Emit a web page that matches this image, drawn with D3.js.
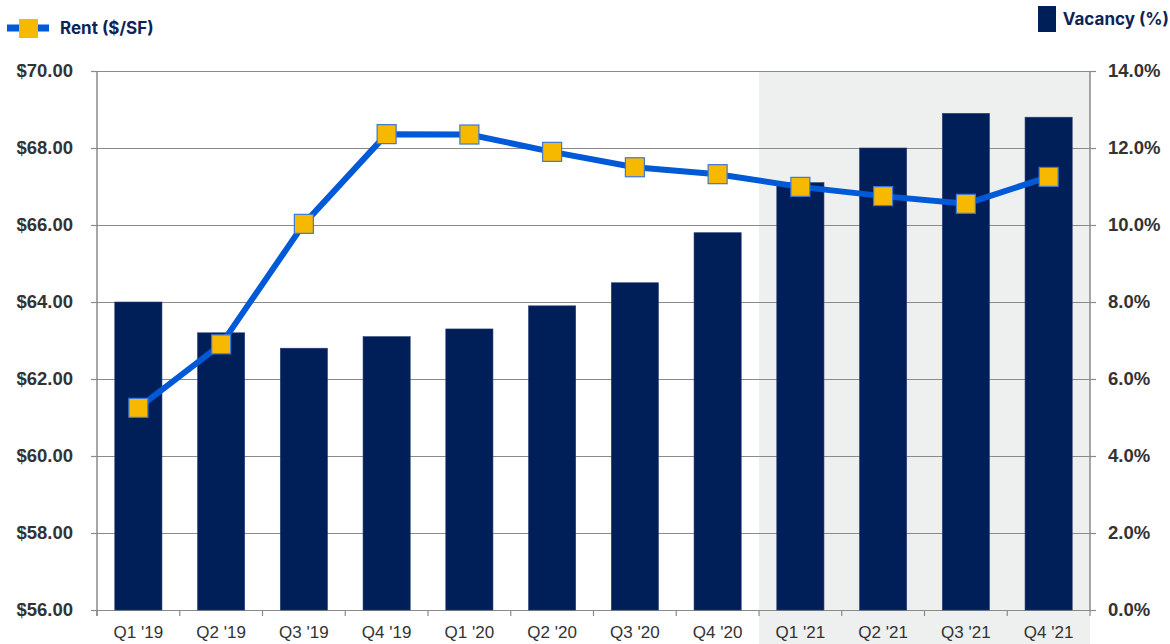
<!DOCTYPE html>
<html>
<head>
<meta charset="utf-8">
<script src="https://cdn.jsdelivr.net/npm/d3@7"></script>
<style>
  body { margin: 0; background: #fff; }
  .tick text { font-family: "Liberation Sans", Arial, sans-serif; fill: #333; }
  .legend { font-family: Inter, "Noto Sans", sans-serif; font-weight: 700; fill: #0e2356; font-size: 17px; }
</style>
</head>
<body>
<div id="chart"></div>
<script>
const quarters = ["Q1 '19", "Q2 '19", "Q3 '19", "Q4 '19", "Q1 '20", "Q2 '20",
                  "Q3 '20", "Q4 '20", "Q1 '21", "Q2 '21", "Q3 '21", "Q4 '21"];
const vacancy = [8.0, 7.2, 6.8, 7.1, 7.3, 7.9, 8.5, 9.8, 11.1, 12.0, 12.9, 12.8];
const rent = [61.25, 62.9, 66.03, 68.36, 68.35, 67.9, 67.5, 67.32, 66.99, 66.75, 66.55, 67.25];
const rentTicks = [56, 58, 60, 62, 64, 66, 68, 70];
const vacTicks = [0, 2, 4, 6, 8, 10, 12, 14];
const shadedFrom = "Q1 '21";

const margin = { top: 71, left: 97, right: 80, bottom: 34 },
  width = 1170 - margin.left - margin.right,
  height = 644 - margin.top - margin.bottom;

const svg = d3.select("#chart").append("svg")
  .attr("width", 1170).attr("height", 644);

const g = svg.append("g")
  .attr("transform", "translate(" + margin.left + "," + margin.top + ")");

const x = d3.scaleBand().domain(quarters).range([0, width]).paddingInner(0.43).paddingOuter(0.215);
const xStep = d3.scaleBand().domain(quarters).range([0, width]);
const yRent = d3.scaleLinear().domain([56, 70]).range([height, 0]);
const yVac = d3.scaleLinear().domain([0, 14]).range([height, 0]);

// shaded region for 2021
g.append("rect")
  .attr("x", xStep(shadedFrom))
  .attr("y", 0)
  .attr("width", width - xStep(shadedFrom))
  .attr("height", 644 - margin.top)
  .attr("fill", "#eeefef");

// gridlines
g.selectAll(".grid").data(rentTicks).enter().append("line")
  .attr("x1", 0).attr("x2", width)
  .attr("y1", d => yRent(d) + 0.5).attr("y2", d => yRent(d) + 0.5)
  .attr("stroke", "#8a8a8a").attr("stroke-width", 1.2);

// bars
g.selectAll(".bar").data(vacancy).enter().append("rect")
  .attr("x", (d, i) => x(quarters[i]))
  .attr("width", x.bandwidth())
  .attr("y", d => yVac(d))
  .attr("height", d => height - yVac(d))
  .attr("fill", "#001e57")
  .attr("stroke", "#2a3f72").attr("stroke-width", 0.6);

// axes
const leftAxis = g.append("g")
  .call(d3.axisLeft(yRent).tickValues(rentTicks).tickSize(6).tickPadding(18)
    .tickFormat(d => "$" + d3.format(".2f")(d)));
const rightAxis = g.append("g")
  .attr("transform", "translate(" + width + ",0)")
  .call(d3.axisRight(yVac).tickValues(vacTicks).tickSize(6).tickPadding(12)
    .tickFormat(d => d3.format(".1f")(d) + "%"));
const bottomAxis = g.append("g")
  .attr("transform", "translate(0," + height + ")")
  .call(d3.axisBottom(xStep).tickSize(0).tickPadding(16));

[leftAxis, rightAxis].forEach(a => {
  a.select(".domain").attr("stroke", "#8a8a8a").attr("stroke-width", 1.5);
  a.selectAll(".tick line").attr("stroke", "#8a8a8a").attr("stroke-width", 1.2);
  a.selectAll(".tick text").attr("font-size", 18.5).attr("font-weight", 700);
});
leftAxis.select(".domain").remove();
g.append("line").attr("x1", 0).attr("x2", 0).attr("y1", 0).attr("y2", height + 6)
  .attr("stroke", "#8a8a8a").attr("stroke-width", 1.5);
rightAxis.select(".domain").attr("d", "M0,0V" + height);

bottomAxis.select(".domain").remove();
bottomAxis.selectAll(".tick text").attr("font-size", 17);
// category boundary ticks
g.selectAll(".xtick").data(quarters.concat(["end"])).enter().append("line")
  .attr("x1", (d, i) => i * xStep.step()).attr("x2", (d, i) => i * xStep.step())
  .attr("y1", height).attr("y2", height + 6)
  .attr("stroke", "#8a8a8a").attr("stroke-width", 1.2);

// rent line
const line = d3.line()
  .x((d, i) => x(quarters[i]) + x.bandwidth() / 2)
  .y(d => yRent(d));
g.append("path").datum(rent)
  .attr("fill", "none").attr("stroke", "#0059d6").attr("stroke-width", 6)
  .attr("stroke-linejoin", "round")
  .attr("d", line);

const ms = 19;
g.selectAll(".marker").data(rent).enter().append("rect")
  .attr("x", (d, i) => x(quarters[i]) + x.bandwidth() / 2 - ms / 2)
  .attr("y", d => yRent(d) - ms / 2)
  .attr("width", ms).attr("height", ms)
  .attr("fill", "#f7b900").attr("stroke", "#3b78d8").attr("stroke-width", 1.2);

// legends
svg.append("line").attr("x1", 7).attr("x2", 49).attr("y1", 28).attr("y2", 28)
  .attr("stroke", "#0059d6").attr("stroke-width", 7);
svg.append("rect").attr("x", 19).attr("y", 19).attr("width", 19).attr("height", 19)
  .attr("fill", "#f7b900");
svg.append("text").attr("class", "legend").attr("x", 60).attr("y", 34).text("Rent ($/SF)");

svg.append("rect").attr("x", 1038).attr("y", 6).attr("width", 18).attr("height", 26)
  .attr("fill", "#001e57");
svg.append("text").attr("class", "legend").attr("x", 1169).attr("y", 25)
  .attr("text-anchor", "end").text("Vacancy (%)");
</script>
</body>
</html>
